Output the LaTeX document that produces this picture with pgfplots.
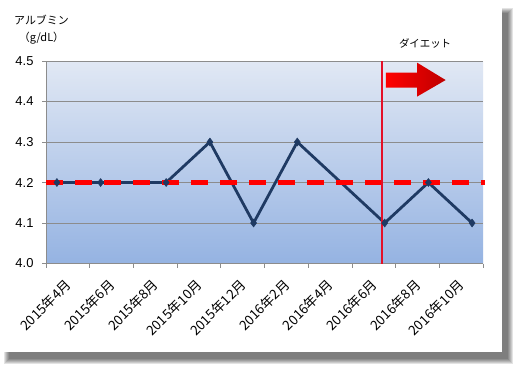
\documentclass[border=0pt]{standalone}
\usepackage{pgfplots}
\pgfplotsset{compat=1.18}
\usepackage{fontspec}
\setmainfont{Liberation Sans}
\newfontfamily\jp{Noto Sans CJK JP}
\definecolor{navy}{RGB}{31,58,99}
\definecolor{gridg}{RGB}{140,140,140}
\definecolor{bgtop}{RGB}{225,232,244}
\definecolor{bgbot}{RGB}{149,179,226}
\definecolor{vred}{RGB}{228,16,40}
\definecolor{dred}{RGB}{190,0,0}
\begin{document}
\begin{tikzpicture}[x=1bp,y=1bp]
\path[use as bounding box] (0,0) rectangle (518,370);
\foreach \i in {0,...,5}{\fill[black,opacity=0.11] (4+\i,6+\i) rectangle (513-\i,362-\i);}
\fill[white] (0,18) rectangle (502,370);
\node[font=\jp\fontsize{11}{12}\selectfont] at (41.5,350) {アルブミン};
\node[font=\jp\fontsize{11}{12}\selectfont] at (41.5,332) {（g/dL）};
\begin{axis}[
  at={(46bp,106.5bp)}, anchor=south west,
  scale only axis, width=437bp, height=202.5bp,
  xmin=0, xmax=20, ymin=4.0, ymax=4.5,
  clip=false,
  axis background/.style={shade, top color=bgtop, bottom color=bgbot},
  axis x line*=bottom, axis y line*=left,
  x axis line style={-, gridg}, y axis line style={-, gridg},
  ytick={4.0,4.1,4.2,4.3,4.4,4.5},
  every y tick label/.append style={font=\fontsize{13}{14}\selectfont, text=black, xshift=-5bp},
  yticklabel style={/pgf/number format/.cd, fixed, fixed zerofill, precision=1, assume math mode=true},
  ymajorgrids, grid style={gridg, line width=0.8bp},
  tick align=outside, major tick length=4bp,
  tick style={gridg, line width=0.8bp},
  xtick={0,2,...,20}, xticklabels={},
  extra x ticks={0.5,2.5,4.5,6.5,8.5,10.5,12.5,14.5,16.5,18.5},
  extra x tick labels={2015年4月,2015年6月,2015年8月,2015年10月,2015年12月,2016年2月,2016年4月,2016年6月,2016年8月,2016年10月},
  extra x tick style={major tick length=0pt, tick style={draw=none}},
  every x tick label/.append style={rotate=45, anchor=north east, font=\jp\fontsize{13.5}{15}\selectfont, text=black, inner sep=1bp, yshift=-14bp, xshift=-4bp},
]
\addplot[navy, line width=2.8bp, mark=diamond*, mark size=4bp, mark options={fill=navy, line width=0.5bp}]
  coordinates {(0.5,4.2) (2.5,4.2) (5.5,4.2) (7.5,4.3) (9.5,4.1) (11.5,4.3) (15.5,4.1) (17.5,4.2) (19.5,4.1)};
\addplot[red, line width=4.5bp, dash pattern=on 17bp off 12bp]
  coordinates {(0,4.2) (20.1,4.2)};
\addplot[vred, line width=2.8bp] coordinates {(15.38,4.0) (15.38,4.5)};
\shade[left color=red, right color=dred]
  (axis cs:15.56,4.471) -- (axis cs:16.98,4.471) -- (axis cs:16.98,4.496) -- (axis cs:18.29,4.453)
  -- (axis cs:16.98,4.412) -- (axis cs:16.98,4.434) -- (axis cs:15.56,4.434) -- cycle;
\node[font=\jp\fontsize{10.5}{12}\selectfont] at (axis cs:17.35,4.544) {ダイエット};
\end{axis}
\end{tikzpicture}
\end{document}
